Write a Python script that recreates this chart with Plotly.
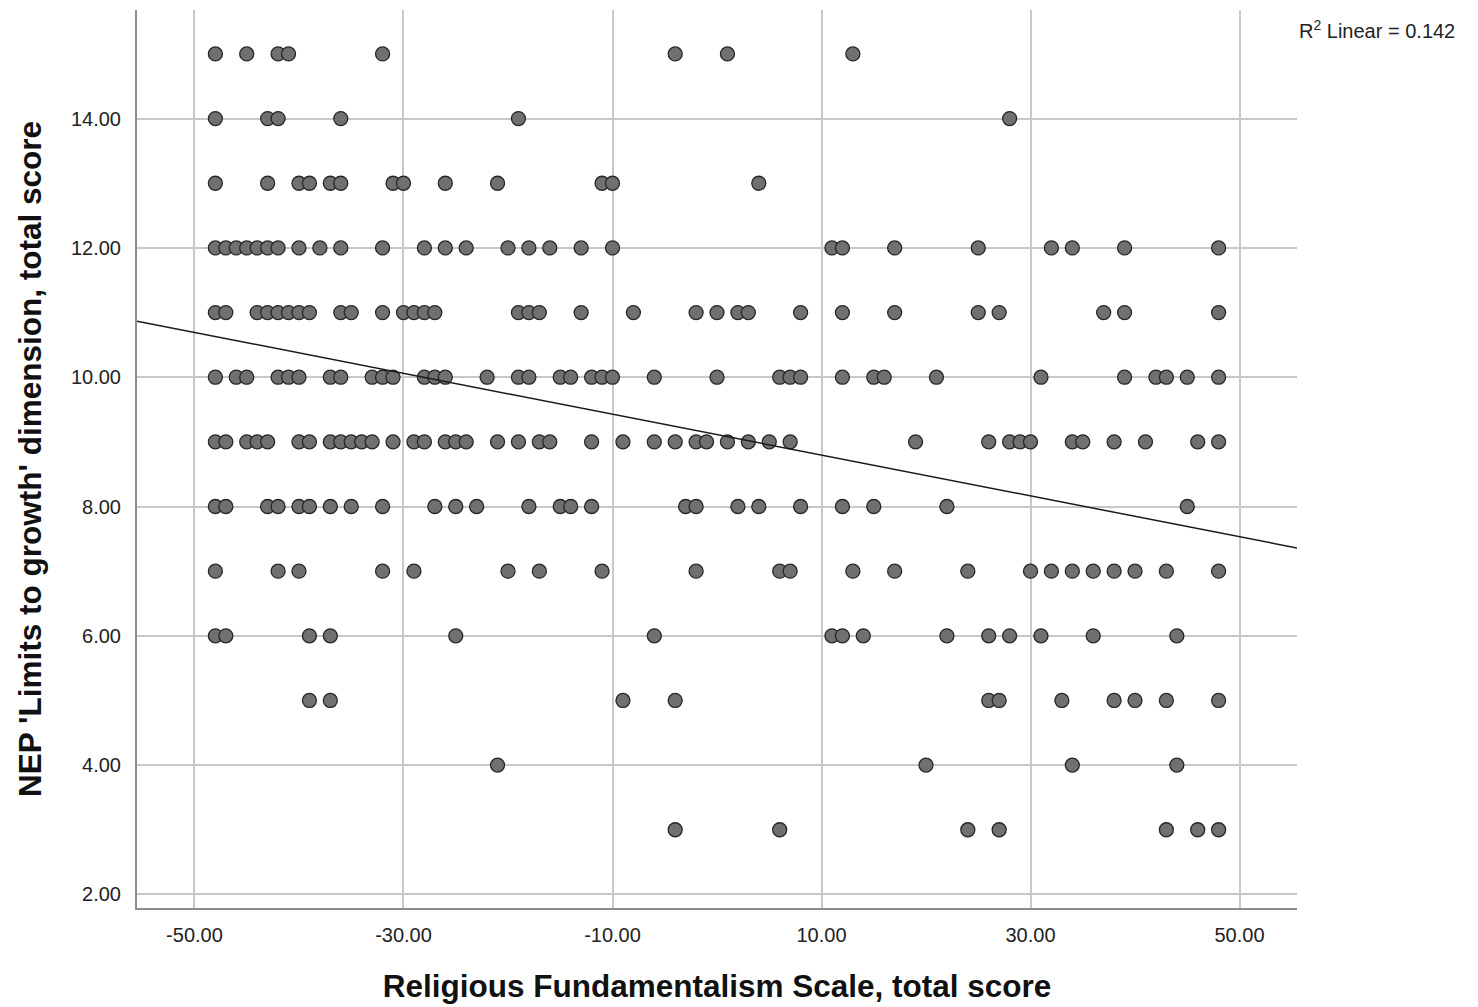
import numpy as np
import plotly.graph_objects as go

# NEP score level -> Religious Fundamentalism scores observed at that level
row_15 = [-48, -45, -42, -41, -32, -4, 1, 13]
row_14 = [-48, -43, -42, -36, -19, 28]
row_13 = [-48, -43, -40, -39, -37, -36, -31, -30, -26, -21, -11, -10, 4]
row_12 = [-48, -47, -46, -45, -44, -43, -42, -40, -38, -36, -32, -28, -26, -24, -20, -18,
          -16, -13, -10, 11, 12, 17, 25, 32, 34, 39, 48]
row_11 = [-48, -47, -44, -43, -42, -41, -40, -39, -36, -35, -32, -30, -29, -28, -27, -19,
          -18, -17, -13, -8, -2, 0, 2, 3, 8, 12, 17, 25, 27, 37, 39, 48]
row_10 = [-48, -46, -45, -42, -41, -40, -37, -36, -33, -32, -31, -28, -27, -26, -22, -19,
          -18, -15, -14, -12, -11, -10, -6, 0, 6, 7, 8, 12, 15, 16, 21, 31, 39, 42, 43, 45, 48]
row_9 = [-48, -47, -45, -44, -43, -40, -39, -37, -36, -35, -34, -33, -31, -29, -28, -26,
         -25, -24, -21, -19, -17, -16, -12, -9, -6, -4, -2, -1, 1, 3, 5, 7, 19, 26, 28, 29,
         30, 34, 35, 38, 41, 46, 48]
row_8 = [-48, -47, -43, -42, -40, -39, -37, -35, -32, -27, -25, -23, -18, -15, -14, -12,
         -3, -2, 2, 4, 8, 12, 15, 22, 45]
row_7 = [-48, -42, -40, -32, -29, -20, -17, -11, -2, 6, 7, 13, 17, 24, 30, 32, 34, 36, 38,
         40, 43, 48]
row_6 = [-48, -47, -39, -37, -25, -6, 11, 12, 14, 22, 26, 28, 31, 36, 44]
row_5 = [-39, -37, -9, -4, 26, 27, 33, 38, 40, 43, 48]
row_4 = [-21, 20, 34, 44]
row_3 = [-4, 6, 24, 27, 43, 46, 48]

nep_levels = [15, 14, 13, 12, 11, 10, 9, 8, 7, 6, 5, 4, 3]
rf_rows = [row_15, row_14, row_13, row_12, row_11, row_10, row_9, row_8, row_7,
           row_6, row_5, row_4, row_3]

x_ticks = [-50, -30, -10, 10, 30, 50]
x_tick_labels = ["-50.00", "-30.00", "-10.00", "10.00", "30.00", "50.00"]
y_ticks = [2, 4, 6, 8, 10, 12, 14]
y_tick_labels = ["2.00", "4.00", "6.00", "8.00", "10.00", "12.00", "14.00"]
r2_text = "R<sup>2</sup> Linear = 0.142"

x_vals = []
y_vals = []
for lvl, row in zip(nep_levels, rf_rows):
    x_vals += row
    y_vals += [lvl] * len(row)
x_arr = np.array(x_vals, dtype=float)
y_arr = np.array(y_vals, dtype=float)

x_range = [-55.5, 55.5]
y_range = [1.79, 15.68]

slope, intercept = np.polyfit(x_arr, y_arr, 1)
line_x = np.array(x_range)
line_y = intercept + slope * line_x

fig = go.Figure()
fig.add_trace(go.Scatter(
    x=x_arr, y=y_arr, mode="markers",
    marker=dict(size=14, color="#707070", line=dict(color="#262626", width=1.3)),
    showlegend=False, hoverinfo="x+y",
))
fig.add_trace(go.Scatter(
    x=line_x, y=line_y, mode="lines",
    line=dict(color="#1a1a1a", width=1.5),
    showlegend=False, hoverinfo="skip",
))

font_family = "Liberation Sans, Arial, sans-serif"
fig.update_layout(
    width=1478, height=1007,
    margin=dict(l=137, r=181, t=10, b=99),
    paper_bgcolor="white", plot_bgcolor="white",
    font=dict(family=font_family, color="#222222"),
    xaxis=dict(
        range=x_range, tickvals=x_ticks, ticktext=x_tick_labels,
        showgrid=True, gridcolor="#c8c8c8", gridwidth=2,
        showline=True, linecolor="#8c8c8c", linewidth=2,
        zeroline=False, ticks="", ticklabelstandoff=8,
        tickfont=dict(size=20, color="#222222"),
        title=dict(text="<b>Religious Fundamentalism Scale, total score</b>",
                   font=dict(size=31.5, color="#111111"), standoff=30),
    ),
    yaxis=dict(
        range=y_range, tickvals=y_ticks, ticktext=y_tick_labels,
        showgrid=True, gridcolor="#c8c8c8", gridwidth=2,
        showline=True, linecolor="#8c8c8c", linewidth=2,
        zeroline=False, ticks="", ticklabelstandoff=10,
        tickfont=dict(size=20, color="#222222"),
        title=dict(text="<b>NEP 'Limits to growth' dimension, total score</b>",
                   font=dict(size=31.5, color="#111111"), standoff=20),
    ),
    annotations=[dict(
        text=r2_text, xref="paper", yref="paper", x=1.0, y=1.0,
        xanchor="left", yanchor="top", xshift=0, yshift=-5,
        showarrow=False, font=dict(size=20, color="#222222"),
    )],
)

fig.write_html("out.html")
